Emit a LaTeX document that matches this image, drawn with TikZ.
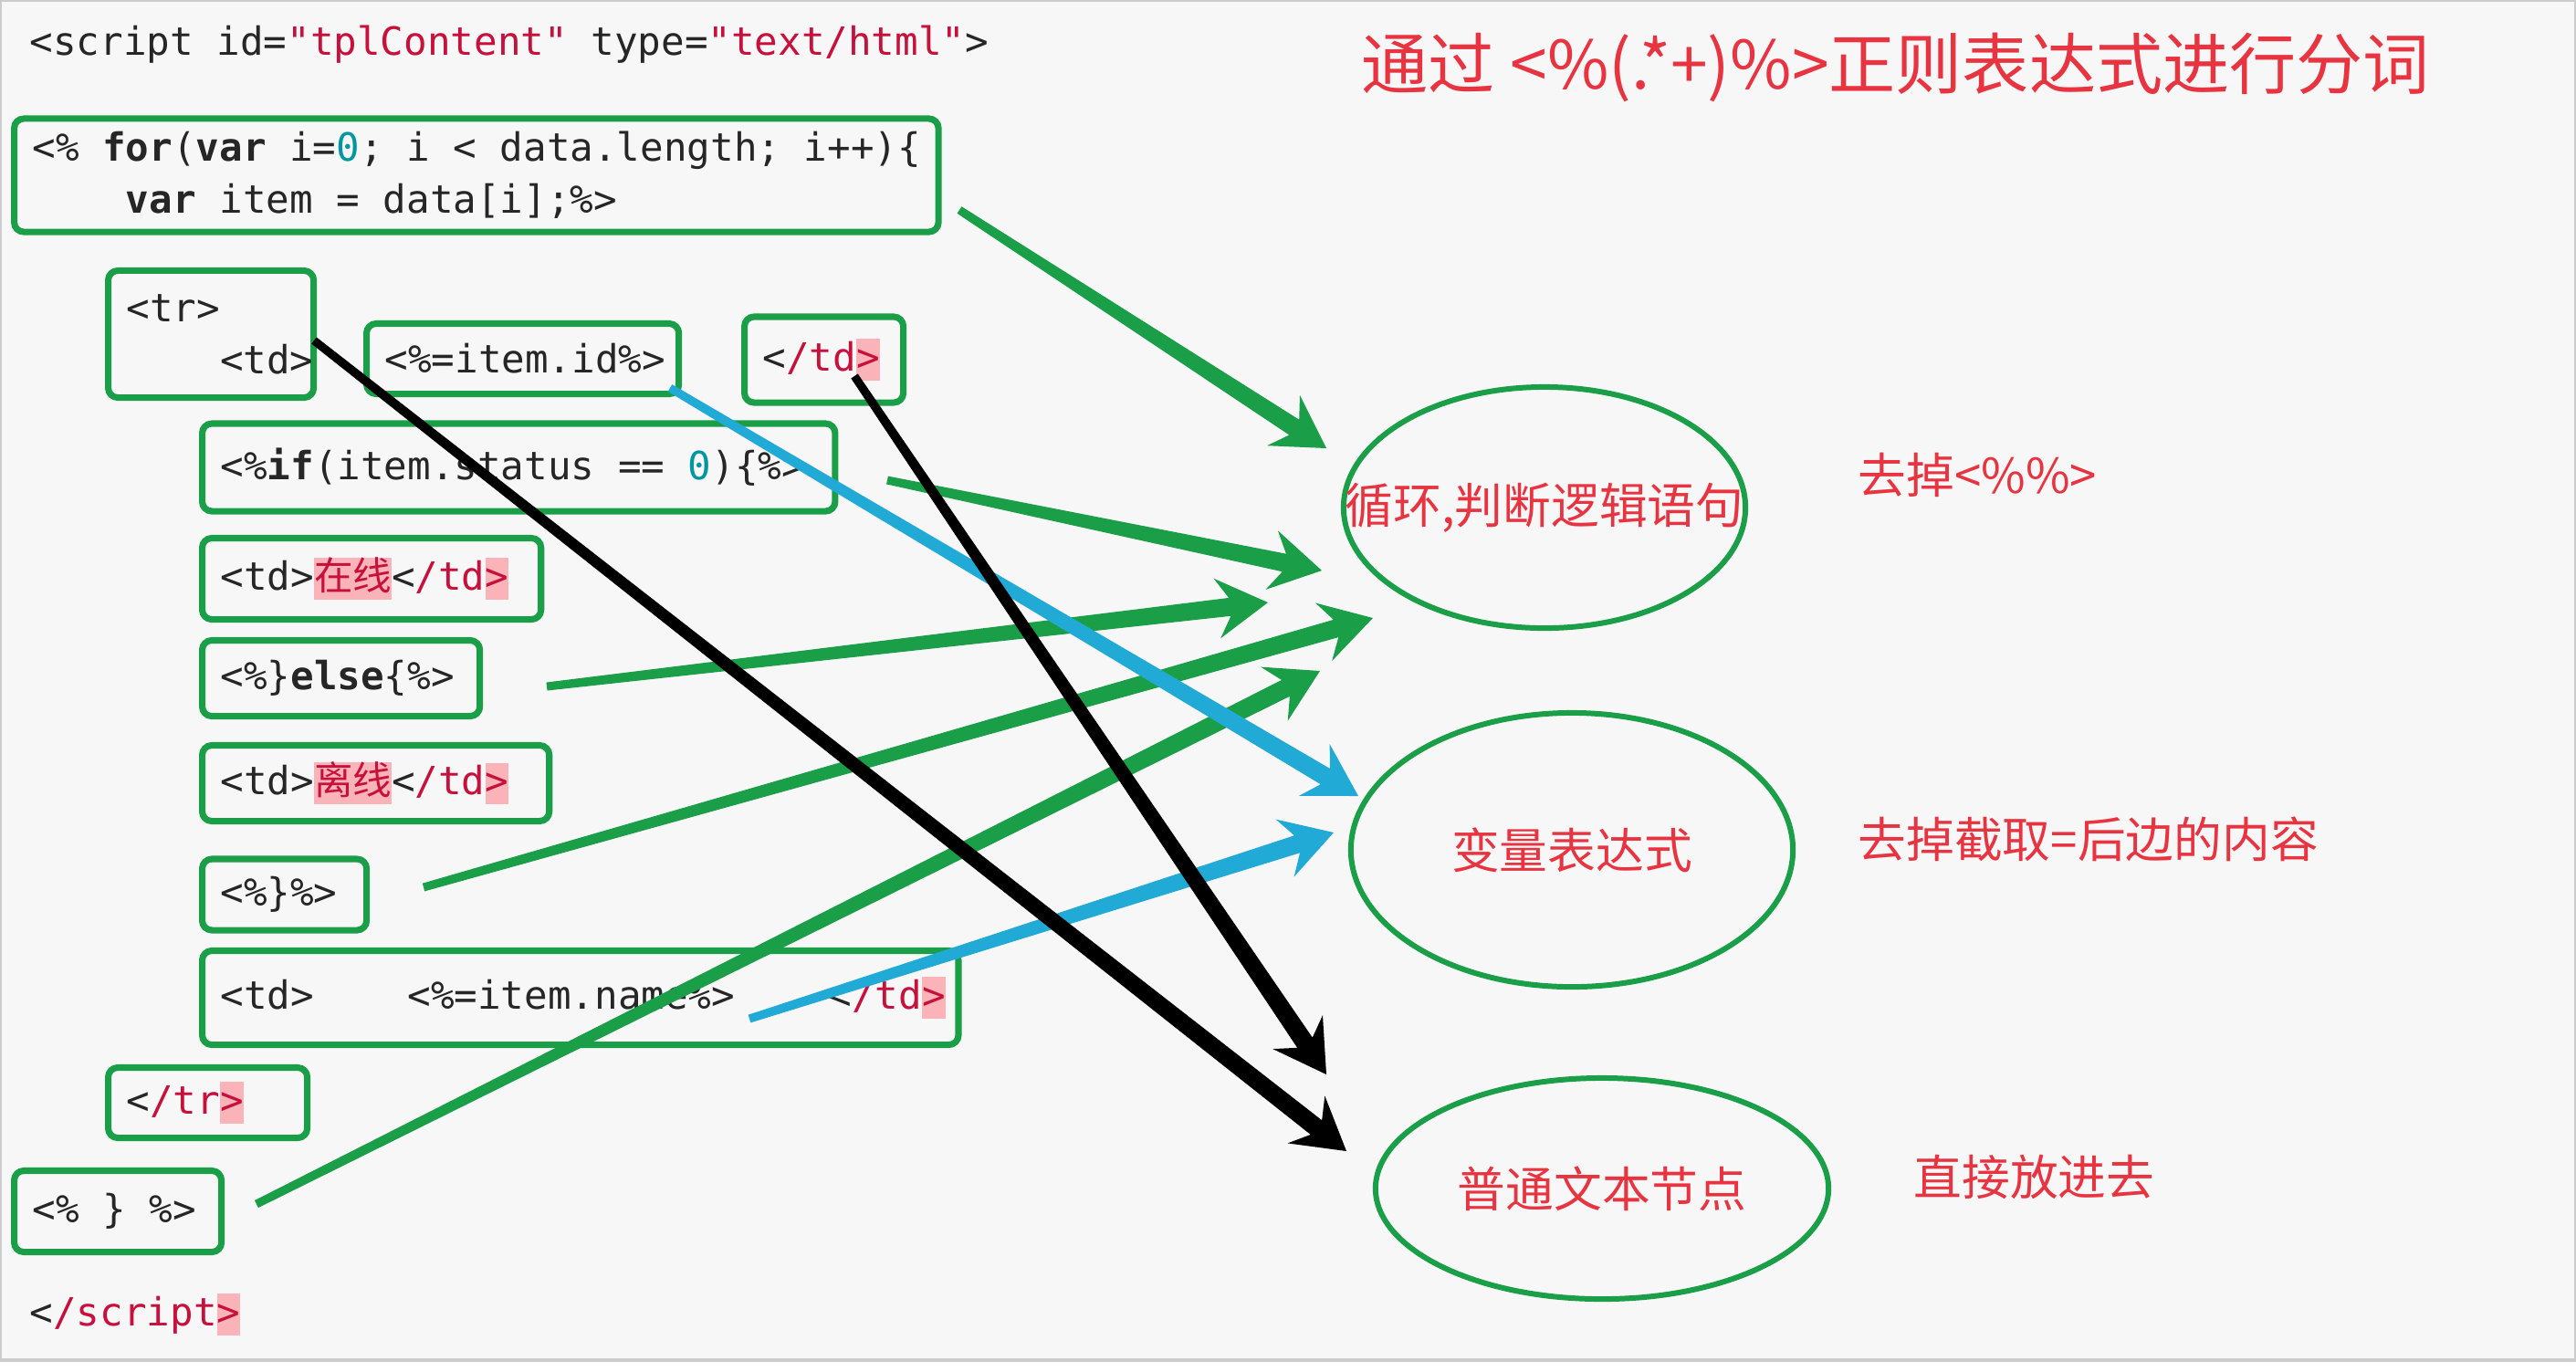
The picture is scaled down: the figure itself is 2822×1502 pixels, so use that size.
\documentclass[tikz,border=0pt]{standalone}
\usepackage{fontspec}
\setmonofont[WordSpace={1,0,0}]{DejaVu Sans Mono}
\newfontfamily\cjk{Noto Sans CJK SC}
\usetikzlibrary{shapes.geometric,calc}

\definecolor{boxgreen}{RGB}{26,158,72}
\definecolor{arrowblue}{RGB}{34,170,214}
\definecolor{notered}{RGB}{232,52,64}
\definecolor{strred}{RGB}{200,16,60}
\definecolor{numteal}{RGB}{0,150,160}
\definecolor{errpink}{RGB}{250,180,185}
\definecolor{panelbg}{RGB}{247,247,247}

\newcommand\kw[1]{\textbf{#1}}
\newcommand\strcol[1]{\textcolor{strred}{#1}}
\newcommand\numcol[1]{\textcolor{numteal}{#1}}
\newcommand\errmark[1]{{\setlength\fboxsep{0pt}\colorbox{errpink}{\rule[-3pt]{0pt}{13pt}#1}}}
\newcommand\codeind{\mbox{}~~~~}

\tikzset{
  code/.style={anchor=west, inner sep=0pt, text=black!85,
    font=\ttfamily\fontsize{12.1}{16.2}\selectfont},
  codebox/.style={code, draw=boxgreen, line width=2pt, rounded corners=3pt,
    inner xsep=0.2cm, execute at begin node={\spaceskip=0pt\xspaceskip=0pt\relax}},
  token/.style={ellipse, draw=boxgreen, line width=1.7pt, inner sep=0pt},
  note/.style={text=notered, inner sep=0pt, font=\cjk\fontsize{15}{18}\selectfont},
  % tapered brush stroke with a notched head
  brush/.style={to path={
    ($(\tikztostart)!0.045cm!90:(\tikztotarget)$)
    -- ($(\tikztotarget)!0.42cm!(\tikztostart)!0.1cm!-90:(\tikztostart)$)
    -- ($(\tikztotarget)!0.56cm!(\tikztostart)!0.33cm!-90:(\tikztostart)$)
    -- (\tikztotarget)
    -- ($(\tikztotarget)!0.56cm!(\tikztostart)!0.33cm!90:(\tikztostart)$)
    -- ($(\tikztotarget)!0.42cm!(\tikztostart)!0.1cm!90:(\tikztostart)$)
    -- ($(\tikztostart)!0.045cm!-90:(\tikztotarget)$) -- cycle}}
}

\begin{document}
\begin{tikzpicture}[x=0.01cm, y=-0.01cm]
\useasboundingbox (0,0) rectangle (2822,1502);

% Panel
\fill[white] (0,0) rectangle (2822,1502);
\filldraw[fill=panelbg, draw=black!20, line width=1pt] (0,0) rectangle (2822,1490);

% Template code
\node[code] (scriptopen) at (32,49) {<script id=\strcol{"tplContent"} type=\strcol{"text/html"}>};
\node[codebox, text width=9.72cm, minimum height=1.24cm] (forbox) at (12,192)
  {<\%~\kw{for}(\kw{var}~i=\numcol{0};~i~<~data.length;~i++)\{\\\codeind\kw{var} item = data[i];\%>};
\node[codebox, text width=1.85cm, minimum height=1.39cm] (trbox) at (115,366) {<tr>\\\codeind<td>};
\node[codebox, text width=3.02cm, minimum height=0.77cm] (idbox) at (398,393) {<\%=item.id\%>};
\node[codebox, text width=1.34cm, minimum height=0.94cm] (tdbox) at (812,394) {<\strcol{/td}\errmark{\strcol{>}}};
\node[codebox, text width=6.53cm, minimum height=0.96cm] (ifbox) at (218,512)
  {<\%\kw{if}(item.status~==~\numcol{0})\{\%>};
\node[codebox, text width=3.31cm, minimum height=0.89cm] (onbox) at (218,634)
  {<td>\errmark{\strcol{\cjk 在线}}<\strcol{/td}\errmark{\strcol{>}}};
\node[codebox, text width=2.64cm, minimum height=0.83cm] (elsebox) at (218,743) {<\%\}\kw{else}\{\%>};
\node[codebox, text width=3.40cm, minimum height=0.83cm] (offbox) at (218,858)
  {<td>\errmark{\strcol{\cjk 离线}}<\strcol{/td}\errmark{\strcol{>}}};
\node[codebox, text width=1.40cm, minimum height=0.78cm] (endifbox) at (218,980) {<\%\}\%>};
\node[codebox, text width=7.88cm, minimum height=1.03cm] (namebox) at (218,1093)
  {<td>~~~~<\%=item.name\%>~~~~<\strcol{/td}\errmark{\strcol{>}}};
\node[codebox, text width=1.78cm, minimum height=0.77cm] (trendbox) at (115,1208) {<\strcol{/tr}\errmark{\strcol{>}}};
\node[codebox, text width=1.87cm, minimum height=0.89cm] (endforbox) at (12,1327) {<\%~\}~\%>};
\node[code] (scriptclose) at (32,1440) {<\strcol{/script}\errmark{\strcol{>}}};

% Token kinds
\node[token, minimum width=4.4cm, minimum height=2.64cm] (loop) at (1692,556) {};
\node[token, minimum width=4.84cm, minimum height=3.0cm] (expr) at (1722,931) {};
\node[token, minimum width=4.96cm, minimum height=2.42cm] (plain) at (1755,1302) {};
\node[note] (loopText) at (loop) {循环,判断逻辑语句};
\node[note] (exprText) at (expr) {变量表达式};
\node[note] (plainText) at (plain) {普通文本节点};

% Notes
\node[note, anchor=west, font=\cjk\fontsize{20.8}{24}\selectfont] (title) at (1491,74)
  {通过 <\%(.*+)\%>正则表达式进行分词};
\node[note, anchor=west] (loopNote) at (2035,520) {去掉<\%\%>};
\node[note, anchor=west] (exprNote) at (2035,919) {去掉截取=后边的内容};
\node[note, anchor=west] (plainNote) at (2096,1289) {直接放进去};

% Arrow ends
\coordinate (forOut) at (1051,230);    \coordinate (loopIn1) at (1453,491);
\coordinate (ifOut) at (972,526);      \coordinate (loopIn2) at (1448,625);
\coordinate (elseOut) at (599,752);    \coordinate (loopIn3) at (1389,660);
\coordinate (endifOut) at (464,972);   \coordinate (loopIn4) at (1504,677);
\coordinate (endforOut) at (281,1319); \coordinate (loopIn5) at (1446,735);
\coordinate (idOut) at (734,425);      \coordinate (exprIn1) at (1488,872);
\coordinate (nameOut) at (821,1116);   \coordinate (exprIn2) at (1461,912);
\coordinate (tdOut) at (344,373);      \coordinate (plainIn1) at (1475,1261);
\coordinate (tdcloseOut) at (936,412); \coordinate (plainIn2) at (1453,1177);

% Logic statements
\fill[boxgreen] (forOut) to[brush] (loopIn1);
\fill[boxgreen] (ifOut) to[brush] (loopIn2);
\fill[boxgreen] (elseOut) to[brush] (loopIn3);
\fill[boxgreen] (endifOut) to[brush] (loopIn4);
\fill[boxgreen] (endforOut) to[brush] (loopIn5);

% Variables
\fill[arrowblue] (idOut) to[brush] (exprIn1);
\fill[arrowblue] (nameOut) to[brush] (exprIn2);

% Plain text
\fill[black] (tdOut) to[brush] (plainIn1);
\fill[black] (tdcloseOut) to[brush] (plainIn2);
\end{tikzpicture}
\end{document}
